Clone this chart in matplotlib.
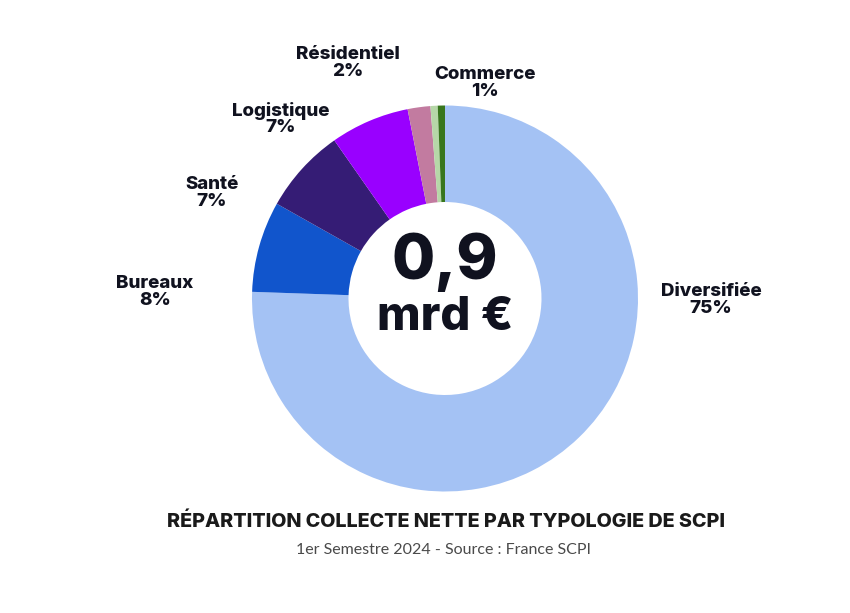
import matplotlib
matplotlib.use("Agg")
import matplotlib.pyplot as plt

categories = ["Diversifiée", "Bureaux", "Santé", "Logistique", "Résidentiel", "Commerce", "Autres"]
values = [75.4, 7.6, 7.1, 6.6, 1.9, 0.6, 0.6]
pct_labels = ["75%", "8%", "7%", "7%", "2%", "1%", ""]
colors = ["#a4c2f4", "#1155cc", "#351c75", "#9900ff", "#c27ba0", "#b6d7a8", "#38761d"]

title = "RÉPARTITION COLLECTE NETTE PAR TYPOLOGIE DE SCPI"
subtitle = "1er Semestre 2024 - Source : France SCPI"
center_value = "0,9"
center_unit = "mrd €"

W, H = 850, 613
fig = plt.figure(figsize=(W / 100, H / 100), dpi=100)
fig.patch.set_facecolor("white")

cx, cy, r = 445, 298.5, 193
ax = fig.add_axes([(cx - r) / W, (H - cy - r) / H, 2 * r / W, 2 * r / H])
ax.pie(values, colors=colors, startangle=90, counterclock=False, radius=1,
       wedgeprops=dict(width=0.5, linewidth=0))
ax.set_xlim(-1, 1)
ax.set_ylim(-1, 1)
ax.set_aspect("equal")
ax.axis("off")

dark = "#10121f"
font = "Inter"

# label positions in pixels (center of the two-line label)
label_pos = {
    "Diversifiée": (711, 300),
    "Bureaux": (155, 292),
    "Santé": (212, 193),
    "Logistique": (281, 119),
    "Résidentiel": (348, 63),
    "Commerce": (485, 83),
}
for cat, pct in zip(categories, pct_labels):
    if cat not in label_pos:
        continue
    x, y = label_pos[cat]
    fig.text(x / W, 1 - y / H, f"{cat}\n{pct}", ha="center", va="center",
             fontsize=13.5, fontweight="heavy", family=font, color=dark,
             linespacing=0.95)

fig.text(cx / W, 1 - 262 / H, center_value, ha="center", va="center",
         fontsize=45, fontweight="heavy", family=font, color=dark)
fig.text(cx / W, 1 - 318 / H, center_unit, ha="center", va="center",
         fontsize=34, fontweight="heavy", family=font, color=dark)

fig.text(446 / W, 1 - 522 / H, title, ha="center", va="center",
         fontsize=14.2, fontweight="heavy", family=font, color="#1a1a1a")
fig.text(444 / W, 1 - 550 / H, subtitle, ha="center", va="center",
         fontsize=11.5, fontweight="normal", family="Lato", color="#4a4a4a")

fig.savefig("out.png", dpi=100, facecolor="white")
